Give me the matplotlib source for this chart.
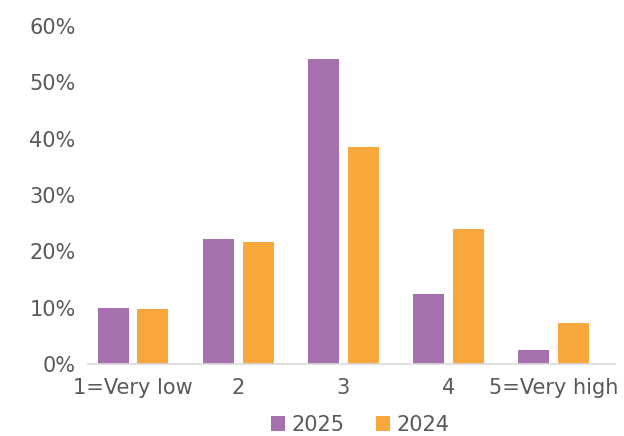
import matplotlib.pyplot as plt
import numpy as np
from matplotlib.ticker import PercentFormatter

categories = ['1=Very low', '2', '3', '4', '5=Very high']
share_2025 = [0.100, 0.222, 0.542, 0.124, 0.025]
share_2024 = [0.098, 0.217, 0.385, 0.240, 0.073]

purple = '#A66FAD'
orange = '#F8A73D'
text_grey = '#595959'

plt.rcParams['font.family'] = ['DejaVu Sans']

fig = plt.figure(figsize=(6.24, 4.36), dpi=100)
ax = fig.add_axes([0.141, 0.165, 0.845, 0.775])

x = np.arange(len(categories))
width = 0.295
ax.bar(x - 0.188, share_2025, width, color=purple, label='2025')
ax.bar(x + 0.188, share_2024, width, color=orange, label='2024')

ax.set_ylim(0, 0.6)
ax.set_xlim(-0.43, 4.585)
ax.set_yticks(np.arange(0, 0.61, 0.1))
ax.yaxis.set_major_formatter(PercentFormatter(1.0, decimals=0))
ax.set_xticks(x)
ax.set_xticklabels(categories)

for side in ['top', 'right', 'left']:
    ax.spines[side].set_visible(False)
ax.spines['bottom'].set_color('#D9D9D9')
ax.spines['bottom'].set_linewidth(1.2)
ax.tick_params(axis='both', length=0, labelsize=15, colors=text_grey)
ax.tick_params(axis='y', pad=9)
ax.tick_params(axis='x', pad=10)

fig.legend(loc='center', bbox_to_anchor=(0.577, 0.026), ncol=2, frameon=False,
           fontsize=15, labelcolor=text_grey, handlelength=0.7, handleheight=0.7,
           handletextpad=0.3, columnspacing=1.5, borderaxespad=0)

fig.savefig('out.png', dpi=100)
